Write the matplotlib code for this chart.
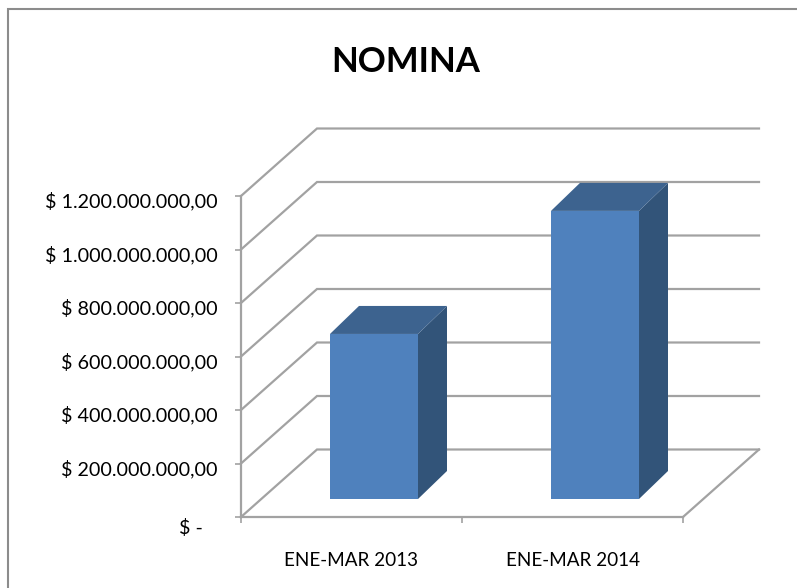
import matplotlib
matplotlib.use("Agg")
import matplotlib.pyplot as plt
from matplotlib.lines import Line2D
from matplotlib.patches import Polygon, Rectangle
from matplotlib.transforms import ScaledTranslation

categories = ["ENE-MAR 2013", "ENE-MAR 2014"]
values = [617000000, 1077000000]
y_ticks = [0, 200000000, 400000000, 600000000, 800000000, 1000000000, 1200000000]
y_labels = ["$ -\u00a0\u00a0\u00a0", "$ 200.000.000,00", "$ 400.000.000,00", "$ 600.000.000,00",
            "$ 800.000.000,00", "$ 1.000.000.000,00", "$ 1.200.000.000,00"]

W, H = 797, 588
GRID = "#a2a2a2"
plt.rcParams["font.family"] = ["Lato", "DejaVu Sans"]

fig = plt.figure(figsize=(W / 100, H / 100), dpi=100)
# chart border, only top and left are inside the crop
fig.add_artist(Line2D([8 / W, 8 / W, 1], [0, 1 - 9 / H, 1 - 9 / H], transform=fig.transFigure,
                      color="#8c8c8c", lw=1.5, solid_joinstyle="miter"))

# front plane of the 3d box, in pixels
ax = fig.add_axes([241 / W, 1 - 517 / H, 442 / W, 321 / H])
ax.set_xlim(0, 2)
ax.set_ylim(0, 1200000000)
ax.patch.set_visible(False)
for s in ["top", "right"]:
    ax.spines[s].set_visible(False)
for s in ["left", "bottom"]:
    ax.spines[s].set_color(GRID)
    ax.spines[s].set_linewidth(1.6)

px_x = 2 / 442
px_y = 1200000000 / 321
depth_x = 76 * px_x
depth_y = 67.5 * px_y

# walls and gridlines
for t in y_ticks:
    ax.plot([0, depth_x, 2 + depth_x], [t, t + depth_y, t + depth_y], color=GRID, lw=1.6,
            clip_on=False, zorder=1, solid_joinstyle="miter")
ax.plot([2, 2 + depth_x], [0, depth_y], color=GRID, lw=1.6, clip_on=False, zorder=1)

# bars
bar_w = 88 * px_x
bar_dx = 29 * px_x
bar_dy = 28 * px_y
shift_x = 22.5 * px_x
shift_y = 18 * px_y
for i, v in enumerate(values):
    x0 = i + 0.5 - bar_w / 2 + shift_x
    x1 = x0 + bar_w
    y0 = shift_y
    y1 = shift_y + v
    ax.add_patch(Polygon([(x1, y0), (x1 + bar_dx, y0 + bar_dy), (x1 + bar_dx, y1 + bar_dy), (x1, y1)],
                         fc="#325479", ec="none", clip_on=False, zorder=3))
    ax.add_patch(Polygon([(x0, y1), (x0 + bar_dx, y1 + bar_dy), (x1 + bar_dx, y1 + bar_dy), (x1, y1)],
                         fc="#3d638f", ec="none", clip_on=False, zorder=3))
    ax.add_patch(Rectangle((x0, y0), bar_w, v, fc="#4f81bd", ec="none", clip_on=False, zorder=4))

ax.set_yticks(y_ticks)
ax.set_yticklabels(y_labels, fontsize=14.2, color="black")
ax.tick_params(axis="y", length=4.5, width=1.2, color=GRID, pad=12.5)
for t, lab in zip(y_ticks, ax.get_yticklabels()):
    drop = 10 if t == 0 else 4
    lab.set_transform(lab.get_transform() + ScaledTranslation(0, -drop / 100, fig.dpi_scale_trans))

ax.set_xticks([0.5, 1.5])
ax.set_xticklabels(categories, fontsize=13.6, color="black")
ax.set_xticks([0, 1, 2], minor=True)
ax.tick_params(axis="x", which="major", length=0, pad=25)
ax.tick_params(axis="x", which="minor", length=4.5, width=1.2, color=GRID)

fig.text(405.5 / W, 1 - 62 / H, "NOMINA", fontsize=25, fontweight="bold", ha="center", va="center")

fig.savefig("out.png", dpi=100)
